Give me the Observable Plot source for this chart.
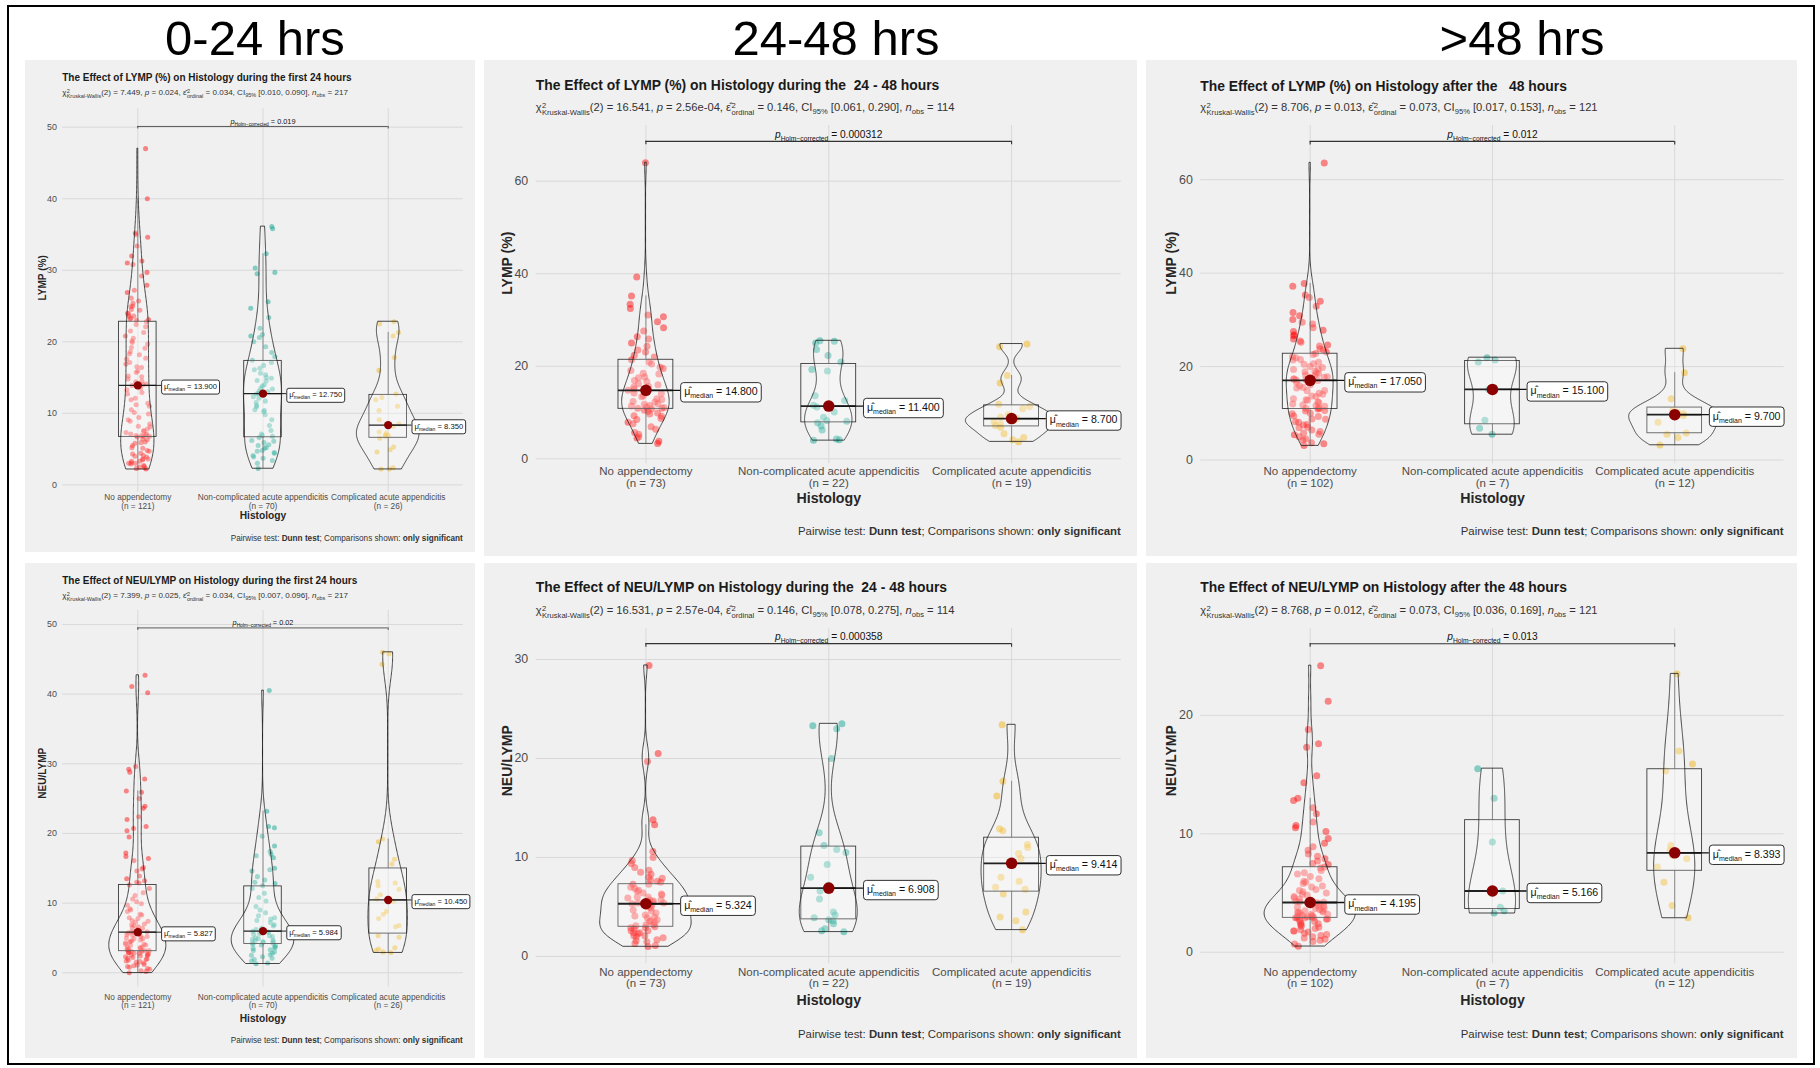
<!DOCTYPE html>
<html><head><meta charset="utf-8">
<script src="https://cdn.jsdelivr.net/npm/d3@7"></script>
<script src="https://cdn.jsdelivr.net/npm/@observablehq/plot@0.6"></script>
<style>
body{margin:0;background:#fff;font-family:"Liberation Sans",Arial,sans-serif;}
#fig{position:relative;width:1820px;height:1068px;overflow:hidden;background:#fff}
.frame{position:absolute;left:7px;top:5px;width:1808px;height:1060px;border:2px solid #000;box-sizing:border-box}
.hdr{position:absolute;font-size:49px;color:#000;transform:translateX(-50%);white-space:nowrap;line-height:1}
.panel{position:absolute;background:#F0F0F0;}
.panel svg{position:absolute;left:0;top:0;overflow:visible}
.ttl,.sub,.cap{position:absolute;white-space:pre;line-height:1}
.ttl{font-weight:bold;color:#1a1a1a}
.sub{color:#333}
.cap{color:#333}
.ss{display:inline-flex;flex-direction:column;align-items:flex-start;font-size:0.68em;line-height:0.95;vertical-align:0.45em;margin-left:0.05em}
.ss>span{display:block}
.sub sub{font-size:0.68em;vertical-align:-0.3em;line-height:0}
</style>
</head><body>
<div id="fig"><div class="frame"></div></div>
<script>
// ---------------- DATA ----------------
const groups = ["No appendectomy", "Non-complicated acute appendicitis", "Complicated acute appendicitis"];
const headers = ["0-24 hrs", "24-48 hrs", ">48 hrs"];
const titles = [
  "The Effect of LYMP (%) on Histology during the first 24 hours",
  "The Effect of LYMP (%) on Histology during the  24 - 48 hours",
  "The Effect of LYMP (%) on Histology after the   48 hours",
  "The Effect of NEU/LYMP on Histology during the first 24 hours",
  "The Effect of NEU/LYMP on Histology during the  24 - 48 hours",
  "The Effect of NEU/LYMP on Histology after the 48 hours"
];
const yLabels = ["LYMP (%)", "LYMP (%)", "LYMP (%)", "NEU/LYMP", "NEU/LYMP", "NEU/LYMP"];
const chi2 = ["7.449", "16.541", "8.706", "7.399", "16.531", "8.768"];
const pKW = ["0.024", "2.56e-04", "0.013", "0.025", "2.57e-04", "0.012"];
const epsilon = ["0.034", "0.146", "0.073", "0.034", "0.146", "0.073"];
const ciLow = ["0.010", "0.061", "0.017", "0.007", "0.078", "0.036"];
const ciHigh = ["0.090", "0.290", "0.153", "0.096", "0.275", "0.169"];
const nObs = [217, 114, 121, 217, 114, 121];
const pHolm = ["0.019", "0.000312", "0.012", "0.02", "0.000358", "0.013"];
const medians = [
  [13.900, 12.750, 8.350],
  [14.800, 11.400, 8.700],
  [17.050, 15.100, 9.700],
  [5.827, 5.984, 10.450],
  [5.324, 6.908, 9.414],
  [4.195, 5.166, 8.393]
];
const yTicks = [
  [0, 10, 20, 30, 40, 50],
  [0, 20, 40, 60],
  [0, 20, 40, 60],
  [0, 10, 20, 30, 40, 50],
  [0, 10, 20, 30],
  [0, 10, 20]
];

// LYMP (%) 0-24 hrs
const lymp024_noApp = [47.0, 40.0, 35.2, 35.0, 34.6, 33.4, 32.0, 31.3, 31.0, 30.8, 29.7, 29.2, 27.9, 27.2, 26.9, 26.1, 25.7, 25.4, 25.0, 24.9, 24.5, 24.4, 24.0, 23.9, 23.6, 23.6, 23.3, 23.2, 23.1, 23.0,
  22.8, 22.4, 22.1, 21.5, 21.3, 20.8, 20.5, 20.1, 19.9, 19.7, 19.2, 19.1, 18.6, 18.3, 18.2, 17.7, 17.6, 17.1, 16.9, 16.5, 16.4, 15.9, 15.7, 15.2, 15.1, 14.8, 14.5, 14.4, 14.1, 14.0,
  13.9, 13.5, 13.3, 12.9, 12.7, 12.1, 11.9, 11.4, 11.2, 11.0, 10.5, 10.1, 9.9, 9.4, 9.1, 8.9, 8.5, 8.2, 8.1, 7.8, 7.6, 7.5, 7.3, 7.1, 7.1, 7.0, 6.9, 6.9, 6.8, 6.8,
  6.7, 6.4, 6.3, 6.0, 5.9, 5.8, 5.5, 5.2, 5.1, 4.8, 4.7, 4.4, 4.3, 4.1, 4.0, 3.9, 3.6, 3.6, 3.5, 3.3, 3.3, 3.1, 3.0, 3.0, 2.9, 2.7, 2.6, 2.5, 2.4, 2.3, 2.2];
const lymp024_nonComp = [36.1, 35.8, 32.3, 30.3, 29.7, 29.5, 25.6, 24.7, 23.4, 21.9, 21.0, 20.8, 20.6, 20.0, 19.3, 18.5, 17.9,
  17.4, 17.1, 16.7, 16.3, 16.1, 15.6, 15.4, 15.0, 14.9, 14.6, 14.5, 14.0, 13.8, 13.5, 13.4, 13.1, 13.0, 12.8,
  12.7, 12.3, 12.1, 11.7, 11.5, 11.1, 10.9, 10.5, 10.4, 10.2, 9.8, 9.1, 8.3, 7.6, 7.1, 6.9, 6.8,
  6.6, 6.2, 6.1, 5.9, 5.6, 5.5, 5.2, 5.1, 4.8, 4.7, 4.5, 4.4, 4.1, 3.9, 3.7, 3.4, 3.0, 2.3];
const lymp024_comp = [22.8, 22.5, 21.3, 20.8, 17.8, 16.0, 12.7, 12.2, 11.9, 11.0, 10.4, 9.1, 8.5, 8.2, 7.4, 7.2, 7.0, 6.9, 6.8, 6.5, 5.3, 4.9, 4.6, 2.4, 2.2, 2.2];

// LYMP (%) 24-48 hrs
const lymp2448_noApp = [64.0, 39.3, 35.2, 33.4, 32.5, 31.1, 30.7, 29.6, 28.3, 27.6, 26.4, 25.9, 25.0, 24.3, 23.5, 23.1, 22.4, 22.0,
  21.4, 20.9, 20.5, 19.8, 19.5, 19.1, 18.5, 18.3, 17.7, 17.5, 16.9, 16.7, 16.2, 16.0, 15.6, 15.5, 15.1, 14.9,
  14.8,
  14.6, 14.2, 14.1, 13.6, 13.4, 13.0, 12.8, 12.4, 12.3, 11.9, 11.8, 11.5, 11.4, 11.2, 11.1, 10.9, 10.9, 10.8,
  10.5, 10.3, 9.9, 9.7, 9.3, 9.2, 8.7, 8.5, 7.9, 7.6, 6.9, 6.4, 5.7, 5.3, 4.7, 4.5, 3.8, 3.3];
const lymp2448_nonComp = [25.5, 25.4, 25.0, 23.6, 22.3, 20.9, 19.3, 19.0, 13.6, 12.6, 11.6, 11.2, 10.1, 9.0, 8.3, 8.1, 7.8, 7.1, 6.2, 4.3, 4.1, 4.0];
const lymp2448_comp = [24.8, 24.2, 18.0, 16.4, 11.8, 11.3, 10.8, 9.5, 9.0, 8.7, 8.4, 8.0, 7.5, 7.2, 6.8, 5.4, 4.6, 4.1, 3.7];

// LYMP (%) >48 hrs
const lymp48_noApp = [63.6, 37.8, 37.2, 35.3, 34.8, 34.0, 32.9, 31.6, 30.9, 30.1, 29.5, 29.1, 28.3, 27.8, 27.5, 26.8, 26.6, 25.9, 25.5, 25.2, 24.6, 24.4, 23.8, 23.6, 23.1,
  22.8, 22.6, 22.1, 21.9, 21.5, 21.4, 20.9, 20.6, 20.5, 20.0, 19.8, 19.5, 19.4, 19.0, 18.9, 18.6, 18.5, 18.2, 18.1, 17.8, 17.7, 17.5, 17.4, 17.3, 17.2, 17.1,
  17.0, 16.7, 16.6, 16.1, 15.9, 15.5, 15.4, 14.9, 14.8, 14.3, 14.1, 13.7, 13.6, 13.1, 12.9, 12.8, 12.4, 12.3, 12.0, 11.8, 11.6, 11.5, 11.2, 11.1, 11.0, 10.9,
  10.6, 10.5, 10.0, 9.9, 9.4, 9.3, 8.8, 8.7, 8.2, 8.1, 7.6, 7.5, 7.0, 6.9, 6.4, 6.1, 5.8, 5.5, 5.4, 5.0, 4.5, 4.3, 3.7, 3.5, 3.1];
const lymp48_nonComp = [21.9, 21.4, 21.0, 15.1, 8.5, 6.8, 5.5];
const lymp48_comp = [23.8, 18.7, 13.1, 10.6, 10.2, 9.9, 9.5, 8.1, 5.8, 5.5, 4.8, 3.2];

// NEU/LYMP 0-24 hrs
const nl024_noApp = [42.7, 41.1, 40.2, 29.6, 29.2, 28.8, 27.8, 26.1, 25.9, 25.0, 23.9, 23.6, 22.4, 22.0, 21.0, 20.7, 20.4, 19.5, 17.2, 16.7, 16.4, 16.1, 15.1, 14.9, 14.6, 13.9, 13.5, 13.2, 13.0, 12.9,
  12.6, 12.1, 11.5, 11.1, 10.6, 10.2, 9.9, 9.7, 9.2, 9.0, 8.8, 8.4, 8.3, 7.9, 7.8, 7.5, 7.4, 7.3, 7.0, 6.9, 6.8, 6.6, 6.5, 6.4, 6.2, 6.1, 6.0, 6.0, 5.9, 5.9,
  5.827,
  5.8, 5.7, 5.5, 5.5, 5.4, 5.2, 5.2, 5.0, 4.9, 4.9, 4.7, 4.6, 4.5, 4.4, 4.3, 4.1, 4.1, 4.0, 3.9, 3.7, 3.7, 3.6, 3.5, 3.4, 3.3, 3.3, 3.2, 3.2, 3.1, 3.1,
  3.0, 2.9, 2.9, 2.8, 2.8, 2.7, 2.6, 2.5, 2.5, 2.4, 2.3, 2.2, 2.1, 2.0, 1.9, 1.8, 1.7, 1.6, 1.5, 1.4, 1.2, 1.1, 1.0, 0.9, 0.8, 0.6, 0.5, 0.3, 0.2, 0.0];
const nl024_nonComp = [40.5, 23.2, 21.0, 20.8, 19.6, 18.2, 17.4, 17.0, 16.8, 16.5, 15.0, 14.8, 14.6, 13.8, 13.3, 13.0, 12.8,
  12.5, 12.1, 11.4, 10.8, 10.3, 9.5, 9.0, 8.6, 8.2, 7.9, 7.7, 7.5, 7.2, 6.9, 6.7, 6.4, 6.2, 6.0,
  5.968, 5.9, 5.8, 5.6, 5.5, 5.3, 5.2, 5.0, 4.9, 4.8, 4.7, 4.6, 4.5, 4.4, 4.4, 4.3, 4.25,
  4.1, 4.0, 3.9, 3.7, 3.6, 3.5, 3.3, 3.2, 3.0, 2.8, 2.6, 2.5, 2.3, 2.1, 1.9, 1.7, 1.4, 1.3];
const nl024_comp = [46.0, 45.8, 44.3, 19.2, 18.8, 16.3, 15.6, 13.1, 12.9, 12.5, 12.0, 11.2, 10.6, 10.3, 8.8, 8.4, 7.8, 6.8, 6.6, 5.3, 5.1, 3.6, 3.4, 3.2, 3.0, 2.9];

// NEU/LYMP 24-48 hrs
const nl2448_noApp = [29.4, 20.5, 19.7, 13.8, 13.3, 10.6, 10.0, 9.7, 9.4, 9.0, 8.7, 8.5, 8.3, 8.0, 7.9, 7.7, 7.6, 7.5,
  7.3, 7.3, 7.0, 6.9, 6.7, 6.6, 6.4, 6.3, 6.2, 6.0, 6.0, 5.9, 5.7, 5.7, 5.6, 5.5, 5.4, 5.4,
  5.324,
  5.2, 5.0, 4.9, 4.7, 4.6, 4.4, 4.2, 4.1, 4.0, 3.9, 3.7, 3.6, 3.5, 3.4, 3.2, 3.2, 3.1, 3.0,
  2.9, 2.9, 2.8, 2.6, 2.6, 2.4, 2.4, 2.3, 2.1, 2.1, 2.0, 1.9, 1.7, 1.6, 1.5, 1.3, 1.1, 1.0];
const nl2448_nonComp = [23.5, 23.3, 23.0, 20.0, 12.5, 11.2, 10.8, 10.5, 9.3, 8.0, 7.2, 6.616, 5.8, 4.5, 4.2, 3.9, 3.7, 3.6, 3.3, 2.8, 2.6, 2.5];
const nl2448_comp = [23.4, 17.7, 16.2, 12.9, 12.7, 11.3, 11.0, 10.4, 9.9, 9.414, 8.0, 7.6, 7.0, 6.8, 6.3, 4.5, 4.0, 3.6, 2.7];

// NEU/LYMP >48 hrs
const nl48_noApp = [24.2, 21.2, 18.8, 17.6, 17.3, 14.9, 14.3, 13.0, 12.8, 12.2, 11.7, 11.0, 10.7, 10.5, 10.2, 9.6, 9.2, 8.9, 8.6, 8.3, 8.1, 7.9, 7.7, 7.5, 7.4,
  7.2, 7.1, 6.9, 6.7, 6.6, 6.4, 6.2, 6.0, 5.9, 5.8, 5.6, 5.5, 5.3, 5.2, 5.1, 5.0, 4.9, 4.8, 4.7, 4.6, 4.5, 4.4, 4.35, 4.3, 4.25, 4.21,
  4.18, 4.1, 4.0, 3.9, 3.9, 3.8, 3.7, 3.7, 3.6, 3.5, 3.5, 3.4, 3.4, 3.3, 3.3, 3.2, 3.2, 3.1, 3.1, 3.0, 3.0, 3.0, 2.9, 2.9, 2.9, 2.9,
  2.8, 2.8, 2.7, 2.6, 2.5, 2.4, 2.4, 2.3, 2.2, 2.1, 2.0, 1.9, 1.8, 1.8, 1.7, 1.6, 1.5, 1.4, 1.3, 1.2, 1.1, 1.0, 0.9, 0.7, 0.5];
const nl48_nonComp = [15.5, 13.0, 9.3, 5.166, 3.8, 3.5, 3.3];
const nl48_comp = [23.5, 17.0, 15.9, 15.3, 9.0, 8.6, 8.186, 7.9, 7.2, 5.9, 3.95, 2.9];

const panelData = [
  [lymp024_noApp, lymp024_nonComp, lymp024_comp],
  [lymp2448_noApp, lymp2448_nonComp, lymp2448_comp],
  [lymp48_noApp, lymp48_nonComp, lymp48_comp],
  [nl024_noApp, nl024_nonComp, nl024_comp],
  [nl2448_noApp, nl2448_nonComp, nl2448_comp],
  [nl48_noApp, nl48_nonComp, nl48_comp]
];

// ---------------- STYLE / LAYOUT ----------------
const palette = ["#FF0000", "#00A08A", "#F2AD00"];
const headerX = [255, 836, 1522];
const layout = [
  {x: 25, y: 60, w: 450, h: 492, pxL: 62.2, pxR: 462.8, top: 108.3, bot: 491.7, yTop: 52.57, yBot: -1.03, br: 50.1, fs: 0.72, tY: 18.3, sY: 35, cY: 479, ylOff: 20, tPad: 2.4, hDy: 26.3},
  {x: 484, y: 60, w: 653, h: 496, pxL: 535.7, pxR: 1120.8, top: 125, bot: 463.3, yTop: 72.03, yBot: -1.08, br: 68.6, fs: 1, tY: 26, sY: 50, cY: 471.7, ylOff: 29, tPad: 3.4, hDy: 39.5},
  {x: 1146, y: 60, w: 651, h: 496, pxL: 1200.3, pxR: 1783.6, top: 125, bot: 463.3, yTop: 71.6, yBot: -0.81, br: 68.2, fs: 1, tY: 26.5, sY: 50, cY: 471.7, ylOff: 29, tPad: 3.4, hDy: 39.5},
  {x: 25, y: 563, w: 450, h: 495, pxL: 62.2, pxR: 462.8, top: 610, bot: 986.7, yTop: 52.0, yBot: -2.07, br: 49.5, fs: 0.72, tY: 17.7, sY: 34.7, cY: 477.7, ylOff: 20, tPad: 6.8, hDy: 35},
  {x: 484, y: 563, w: 653, h: 495, pxL: 535.7, pxR: 1120.8, top: 628.3, bot: 963.3, yTop: 33.1, yBot: -0.74, br: 31.6, fs: 1, tY: 25.3, sY: 50.3, cY: 472, ylOff: 29, tPad: 3.6, hDy: 41.5},
  {x: 1146, y: 563, w: 651, h: 495, pxL: 1200.3, pxR: 1783.6, top: 628.3, bot: 963.3, yTop: 27.31, yBot: -0.98, br: 26.05, fs: 1, tY: 24.7, sY: 50.3, cY: 472, ylOff: 29, tPad: 3.6, hDy: 41.5}
];

// ---------------- HELPERS ----------------
const hash = (j, k) => { const s = Math.sin(j * 12.9898 + k * 78.233 + 1.7) * 43758.5453; return s - Math.floor(s); };

function kde(values) {
  const v = values.slice().sort(d3.ascending);
  const n = v.length;
  const sd = d3.deviation(v);
  const iqr = d3.quantileSorted(v, 0.75) - d3.quantileSorted(v, 0.25);
  let lo = Math.min(sd, iqr / 1.34);
  if (!(lo > 0)) lo = sd || 1;
  const bw = 0.9 * lo * Math.pow(n, -0.2);
  const mn = v[0], mx = v[n - 1], N = 256, out = [];
  for (let k = 0; k <= N; k++) {
    const y = mn + (mx - mn) * k / N;
    let s = 0;
    for (const xi of v) { const u = (y - xi) / bw; s += Math.exp(-0.5 * u * u); }
    out.push({y, d: s / (n * bw * Math.sqrt(2 * Math.PI))});
  }
  return out;
}

function boxStats(values, g, med) {
  const v = values.slice().sort(d3.ascending);
  const q1 = d3.quantileSorted(v, 0.25), q3 = d3.quantileSorted(v, 0.75);
  const iqr = q3 - q1;
  const lo = d3.min(v.filter(d => d >= q1 - 1.5 * iqr));
  const hi = d3.max(v.filter(d => d <= q3 + 1.5 * iqr));
  return {g, q1, q3, lo, hi, med, label: med.toFixed(3)};
}

const SVGNS = "http://www.w3.org/2000/svg";
function addBox(textEl, px, py, rx) {
  const bb = textEl.getBBox();
  const r = document.createElementNS(SVGNS, "rect");
  r.setAttribute("x", bb.x - px);
  r.setAttribute("y", bb.y - py);
  r.setAttribute("width", bb.width + 2 * px);
  r.setAttribute("height", bb.height + 2 * py);
  r.setAttribute("rx", rx);
  r.setAttribute("fill", "#fff");
  r.setAttribute("stroke", "#1a1a1a");
  r.setAttribute("stroke-width", 0.9);
  const tr = textEl.getAttribute("transform");
  if (tr) r.setAttribute("transform", tr);
  textEl.parentNode.insertBefore(r, textEl);
}

// ---------------- DRAW ----------------
const fig = document.getElementById("fig");
headers.forEach((h, c) => {
  const d = document.createElement("div");
  d.className = "hdr";
  d.style.left = headerX[c] + "px";
  d.style.top = "14px";
  d.textContent = h;
  fig.appendChild(d);
});

function subtitleHTML(i) {
  return `χ<span class="ss"><span>2</span><span>Kruskal-Wallis</span></span>(2) = ${chi2[i]}, <i>p</i> = ${pKW[i]}, ε̂<span class="ss"><span>2</span><span>ordinal</span></span> = ${epsilon[i]}, CI<sub>95%</sub> [${ciLow[i]}, ${ciHigh[i]}], <i>n</i><sub>obs</sub> = ${nObs[i]}`;
}

panelData.forEach((data, i) => {
  const L = layout[i];
  const fs = L.fs;
  const med = medians[i];
  const panel = document.createElement("div");
  panel.className = "panel";
  Object.assign(panel.style, {left: L.x + "px", top: L.y + "px", width: L.w + "px", height: L.h + "px"});
  fig.appendChild(panel);

  const pts = [];
  data.forEach((arr, g) => arr.forEach((v, j) => pts.push({g, v, x: g + (hash(j, g + 3 * i) - 0.5) * 0.2})));
  const dens = data.map(kde);
  const maxD = d3.max(dens.flat(), d => d.d);
  const violin = [];
  dens.forEach((arr, g) => arr.forEach(d => violin.push({g, y: d.y, x1: g - 0.25 * d.d / maxD, x2: g + 0.25 * d.d / maxD})));
  const boxes = data.map((arr, g) => boxStats(arr, g, med[g]));
  const ppu = (L.bot - L.top) / (L.yTop - L.yBot);
  const tickLen = 3.5 * fs / ppu;
  const labOff = 0.19;
  const mTag = "\u200B", pTag = "\u200C"; // invisible markers to find the label texts
  const MF = 10.6 * fs, PF = 10.2 * fs;

  const svg = Plot.plot({
    width: L.w, height: L.h,
    marginLeft: L.pxL - L.x, marginRight: L.x + L.w - L.pxR,
    marginTop: L.top - L.y, marginBottom: L.y + L.h - L.bot,
    x: {domain: [-0.6, 2.6]},
    y: {domain: [L.yBot, L.yTop]},
    style: {background: "transparent", fontFamily: "'Liberation Sans', Arial, sans-serif", color: "#4d4d4d", overflow: "visible"},
    marks: [
      Plot.gridY({ticks: yTicks[i], stroke: "#d6d6d6", strokeOpacity: 1, strokeWidth: 0.9}),
      Plot.gridX({ticks: [0, 1, 2], stroke: "#d6d6d6", strokeOpacity: 1, strokeWidth: 0.9}),
      Plot.axisY({ticks: yTicks[i], tickSize: 0, tickPadding: 8 * fs, fontSize: 12.4 * fs, label: null}),
      Plot.axisX({ticks: [0, 1, 2], tickSize: 0, tickPadding: L.tPad, fontSize: 11.5 * fs, label: null,
        tickFormat: g => `${groups[g]}\n(n = ${data[g].length})`}),
      Plot.text(["Histology"], {frameAnchor: "bottom", dy: L.hDy, fontWeight: "bold", fontSize: 14.2 * fs, fill: "#262626"}),
      Plot.text([yLabels[i]], {frameAnchor: "left", dx: -L.ylOff, rotate: -90, fontWeight: "bold", fontSize: 14 * fs, fill: "#262626"}),
      Plot.dot(pts, {x: "x", y: "v", r: 3.5 * fs, fill: d => palette[d.g], fillOpacity: 0.45, stroke: null}),
      Plot.rect(boxes, {x1: d => d.g - 0.15, x2: d => d.g + 0.15, y1: "q1", y2: "q3", fill: "white", fillOpacity: 0.2, stroke: "#3a3a3a", strokeWidth: 0.9}),
      Plot.ruleX(boxes, {x: "g", y1: "q3", y2: "hi", stroke: "#3a3a3a", strokeWidth: 0.7}),
      Plot.ruleX(boxes, {x: "g", y1: "q1", y2: "lo", stroke: "#3a3a3a", strokeWidth: 0.7}),
      Plot.areaX(violin, {y: "y", x1: "x1", x2: "x2", z: "g", fill: "white", fillOpacity: 0.2, stroke: "#1a1a1a", strokeWidth: 0.8}),
      Plot.ruleY(boxes, {y: "med", x1: d => d.g - 0.15, x2: d => d.g + 0.15, stroke: "#222", strokeWidth: 1.8 * fs}),
      Plot.ruleY(boxes, {y: "med", x1: "g", x2: d => d.g + labOff, stroke: "#111", strokeWidth: 1.3 * fs}),
      Plot.dot(boxes, {x: "g", y: "med", r: 5.8 * fs, fill: "#8B0000", stroke: null}),
      Plot.text(boxes, {x: d => d.g + labOff, y: "med", text: d => mTag + d.label, textAnchor: "start", dx: 3.5 * fs, dy: 1.5 * fs, fontSize: MF, fill: "#111"}),
      Plot.ruleY([L.br], {y: d => d, x1: 0, x2: 2, stroke: "#333", strokeWidth: 1.1 * fs}),
      Plot.ruleX([0, 2], {x: d => d, y1: L.br, y2: L.br - tickLen, stroke: "#333", strokeWidth: 1.1 * fs}),
      Plot.text([pHolm[i]], {x: 1, y: L.br, dy: -7 * fs, text: d => pTag + d, fontSize: PF, fill: "#111"})
    ]
  });
  panel.appendChild(svg);

  // median labels with rounded boxes
  d3.select(svg).selectAll("text").filter(function () { return this.textContent.startsWith(mTag); }).each(function () {
    const t = d3.select(this);
    const val = this.textContent.slice(1);
    t.selectAll("*").remove();
    t.text(null);
    t.append("tspan").text("μ̂");
    t.append("tspan").attr("font-size", MF * 0.66).attr("dy", MF * 0.3).text("median");
    t.append("tspan").attr("dy", -MF * 0.3).text(" = " + val);
    addBox(this, 3.5 * fs, 2.6 * fs, 3 * fs);
  });
  d3.select(svg).selectAll("text").filter(function () { return this.textContent.startsWith(pTag); }).each(function () {
    const t = d3.select(this);
    const val = this.textContent.slice(1);
    t.selectAll("*").remove();
    t.text(null);
    t.append("tspan").attr("font-style", "italic").text("p");
    t.append("tspan").attr("font-size", PF * 0.66).attr("dy", PF * 0.3).text("Holm−corrected");
    t.append("tspan").attr("dy", -PF * 0.3).text(" = " + val);
  });

  const TF = 13.9 * fs, SF = 11.2 * fs, CF = 11.4 * fs;
  const ttl = document.createElement("div");
  ttl.className = "ttl";
  ttl.style.fontSize = TF + "px";
  ttl.style.left = (L.pxL - L.x) + "px";
  ttl.style.top = (L.tY - 0.5 * TF) + "px";
  ttl.textContent = titles[i];
  panel.appendChild(ttl);

  const sub = document.createElement("div");
  sub.className = "sub";
  sub.style.fontSize = SF + "px";
  sub.style.left = (L.pxL - L.x) + "px";
  sub.style.top = (L.sY - 0.75 * SF) + "px";
  sub.innerHTML = subtitleHTML(i);
  panel.appendChild(sub);

  const cap = document.createElement("div");
  cap.className = "cap";
  cap.style.fontSize = CF + "px";
  cap.style.right = (L.x + L.w - L.pxR) + "px";
  cap.style.top = (L.cY - 0.5 * CF) + "px";
  cap.innerHTML = "Pairwise test: <b>Dunn test</b>; Comparisons shown: <b>only significant</b>";
  panel.appendChild(cap);
});
</script>
</body></html>
